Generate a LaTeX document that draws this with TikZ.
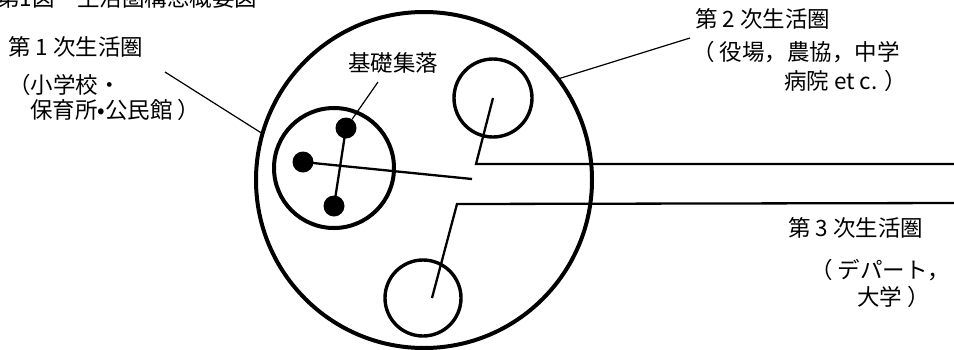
\documentclass[tikz,border=0pt]{standalone}
\usepackage{fontspec}
\setmainfont{Noto Sans CJK JP}
\begin{document}
\begin{tikzpicture}[x=1pt,y=-1pt,
  ring/.style={circle,draw,inner sep=0pt,outer sep=0pt,line width=#1},
  blob/.style={circle,fill,inner sep=0pt,outer sep=0pt,minimum size=21pt},
  lbl/.style={inner sep=0pt,font=\fontsize{22.5}{25}\selectfont},
  wire/.style={line width=2.3pt},
  leader/.style={line width=1.2pt}]
\clip (0,0) rectangle (954,349);
% circles
\node[ring=4pt,minimum size=336pt] (outer) at (424,180) {};
\node[ring=4pt,minimum size=120pt] (c1) at (334,168) {};
\node[ring=3.4pt,minimum size=78pt] (c2) at (493,98) {};
\node[ring=3.4pt,minimum size=76pt] (c3) at (423,298) {};
% settlements
\node[blob] (d1) at (346,128) {};
\node[blob] (d2) at (303,162) {};
\node[blob] (d3) at (334,206) {};
% free ends
\coordinate (hub) at (472,179);
\coordinate (k2) at (476,164);
\coordinate (e2) at (960,164);
\coordinate (p3) at (432,298);
\coordinate (k3) at (457,204);
\coordinate (e3) at (960,203);
\coordinate (l1) at (165,72);
\coordinate (l2) at (690,38);
\coordinate (l0) at (378,82);
% connectors
\draw[wire] (d2.center) -- (hub);
\draw[wire] (d1.center) -- (d3.center);
\draw[wire] (c2.center) -- (k2) -- (e2);
\draw[wire] (p3) -- (k3) -- (e3);
\draw[leader] (l1) -- (outer.164);
\draw[leader] (outer.37) -- (l2);
\draw[leader] (l0) -- (d1);
% labels
\node[lbl,anchor=west] (title) at (-3,-2) {第1図\quad 生活圏構想概要図};
\node[lbl,anchor=west] (t1) at (8,47) {第 1 次生活圏};
\node[lbl,anchor=west] (t1a) at (8,85) {（小学校・};
\node[lbl,anchor=west] (t1b) at (30,110) {保育所•公民館 ）};
\node[lbl] (t0) at (393,63) {基礎集落};
\node[lbl,anchor=west] (t2) at (695,19) {第 2 次生活圏};
\node[lbl,anchor=west] (t2a) at (692,52) {（ 役場，農協，中学};
\node[lbl,anchor=east] (t2b) at (907,81) {病院 et c. ）};
\node[lbl,anchor=west] (t3) at (788,228) {第 3 次生活圏};
\node[lbl,anchor=west] (t3a) at (810,270) {（ デパート，};
\node[lbl,anchor=east] (t3b) at (930,297) {大学 ）};
\end{tikzpicture}
\end{document}
